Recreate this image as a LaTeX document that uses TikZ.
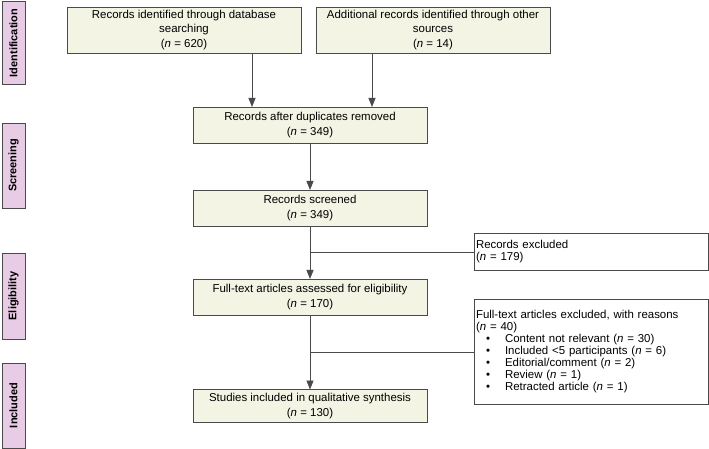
\documentclass[tikz,border=0pt]{standalone}
\usepackage{fontspec}
\setmainfont{Liberation Sans}
\usetikzlibrary{arrows.meta}
\definecolor{boxfill}{HTML}{F3F4E4}
\definecolor{phase}{HTML}{E8CBE5}
\definecolor{edge}{HTML}{4A4A4A}
\begin{document}
\begin{tikzpicture}[x=1bp,y=-1bp,
  every node/.style={inner sep=0pt, outer sep=0pt},
  flowbox/.style={draw=edge, line width=0.9pt, fill=boxfill, font=\fontsize{11.5}{14.2}\selectfont, align=center},
  exbox/.style={draw=edge, line width=0.9pt, fill=white, font=\fontsize{11.5}{12.2}\selectfont, align=left},
  phasebox/.style={draw=edge, line width=0.9pt, fill=phase},
  phasetext/.style={rotate=90, font=\fontsize{11}{13}\selectfont\bfseries},
  conn/.style={draw=edge, line width=0.9pt},
  arr/.style={conn, -{Triangle[width=7bp,length=9bp]}}]
\useasboundingbox (0,0) rectangle (709,449);
% phase labels
\node[phasebox, minimum width=23bp, minimum height=83bp] (p1) at (13.5,43) {};
\node[phasetext] at (p1) {Identification};
\node[phasebox, minimum width=23bp, minimum height=85bp] (p2) at (13.5,165.5) {};
\node[phasetext] at (p2) {Screening};
\node[phasebox, minimum width=23bp, minimum height=86bp] (p3) at (13.5,296) {};
\node[phasetext] at (p3) {Eligibility};
\node[phasebox, minimum width=23bp, minimum height=85bp] (p4) at (13.5,405.5) {};
\node[phasetext] at (p4) {Included};
% main boxes
\node[flowbox, minimum width=234bp, minimum height=46bp] (b1) at (184,30) {\raisebox{-2bp}{\parbox{230bp}{\centering Records identified through database\\searching\\(\textit{n} = 620)}}};
\node[flowbox, minimum width=234bp, minimum height=46bp] (b2) at (433,30) {\raisebox{-2bp}{\parbox{230bp}{\centering Additional records identified through other\\sources\\(\textit{n} = 14)}}};
\node[flowbox, minimum width=234bp, minimum height=36bp] (b3) at (310,125) {Records after duplicates removed\\(\textit{n} = 349)};
\node[flowbox, minimum width=234bp, minimum height=36bp] (b4) at (310,208) {Records screened\\(\textit{n} = 349)};
\node[flowbox, minimum width=234bp, minimum height=36bp] (b5) at (310,297) {Full-text articles assessed for eligibility\\(\textit{n} = 170)};
\node[flowbox, minimum width=234bp, minimum height=33bp] (b6) at (310,406) {Studies included in qualitative synthesis\\(\textit{n} = 130)};
% exclusion boxes
\node[exbox, minimum width=234bp, minimum height=37bp, anchor=north west, text width=230bp, inner xsep=2bp, inner ysep=5bp] (e1) at (474,233) {Records excluded\\(\textit{n} = 179)};
\node[exbox, minimum width=234bp, minimum height=105bp, anchor=north west, text width=230bp, inner xsep=2bp, inner ysep=5bp] (e2) at (474,299) {Full-text articles excluded, with reasons\\(\textit{n} = 40)\\
\hspace*{10bp}\textbullet\hspace{15bp}Content not relevant (\textit{n} = 30)\\
\hspace*{10bp}\textbullet\hspace{15bp}Included <5 participants (\textit{n} = 6)\\
\hspace*{10bp}\textbullet\hspace{15bp}Editorial/comment (\textit{n} = 2)\\
\hspace*{10bp}\textbullet\hspace{15bp}Review (\textit{n} = 1)\\
\hspace*{10bp}\textbullet\hspace{15bp}Retracted article (\textit{n} = 1)};
% connectors
\draw[arr] (b1.south -| 252,0) -- (b3.north -| 252,0);
\draw[arr] (b2.south -| 372,0) -- (b3.north -| 372,0);
\draw[arr] (b3) -- (b4);
\draw[arr] (b4) -- (b5);
\draw[arr] (b5) -- (b6);
\coordinate (j1) at (310,252);
\coordinate (j2) at (310,352);
\draw[conn] (j1) -- (e1.west |- j1);
\draw[conn] (j2) -- (e2.west |- j2);
\end{tikzpicture}
\end{document}
